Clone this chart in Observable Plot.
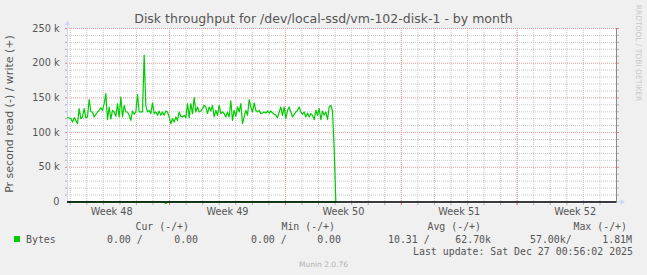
<!DOCTYPE html>
<html><head><meta charset="utf-8">
<script src="https://cdn.jsdelivr.net/npm/d3@7"></script>
<script src="https://cdn.jsdelivr.net/npm/@observablehq/plot@0.6"></script>
<style>
html,body{margin:0;padding:0;background:#f0f0f0;}
#wrap{position:relative;width:647px;height:275px;overflow:hidden;background:#f0f0f0;font-family:"DejaVu Sans",sans-serif;color:#555;}
#plot{position:absolute;left:0;top:0;}
#plot svg{display:block;overflow:visible;}
.abs{position:absolute;white-space:pre;line-height:12px;height:12px;}
#title{left:0;width:647px;top:12px;text-align:center;font-size:12.5px;color:#555;line-height:14px;height:14px;}
#ylabel{left:10px;top:114px;font-size:11px;color:#555;transform:translate(-50%,-50%) rotate(-90deg);line-height:12px;}
#rrd{left:638px;top:53px;font-size:7.5px;color:#c8c8c8;transform:translate(-50%,-50%) rotate(90deg);line-height:9px;height:9px;}
.mono{font-family:"DejaVu Sans Mono",monospace;font-size:9.9px;color:#555;}
#munin{left:0;width:647px;text-align:center;top:259px;font-size:7.5px;color:#b0b0b0;}
#swatch{position:absolute;left:14px;top:236px;width:6px;height:6px;background:#00CC00;}
</style>
</head><body>
<div id="wrap">
  <div id="plot"></div>
  <div id="title" class="abs">Disk throughput for /dev/local-ssd/vm-102-disk-1 - by month</div>
  <div id="ylabel" class="abs">Pr second read (-) / write (+)</div>
  <div id="rrd" class="abs">RRDTOOL / TOBI OETIKER</div>
  <div id="legend"></div>
  <div id="munin" class="abs">Munin 2.0.76</div>
</div>
<script>
// ---- data ----
const seriesStart = new Date(Date.UTC(2025, 10, 24, 20, 0));
const stepMinutes = 145;
const domainStart = new Date(Date.UTC(2025, 10, 24, 20, 0));
const domainEnd = new Date(Date.UTC(2025, 11, 28, 0, 0));

// write (+) bytes per second, in thousands
const writeK = [
121.5,121,120.1,115.2,121.5,117.6,112.8,134.5,120.1,122.5,
134.5,121.5,122.5,147.5,130,129.7,122.5,126.3,129.7,132.1,
135.5,132.1,141.7,156.1,118.6,136.9,119.6,132.1,129.7,123.4,
141.7,122.5,151.3,122.5,139.3,129.7,129.7,124.9,117.6,131.1,
126.3,129.7,155.2,129.7,130,129.7,211.5,139.3,130,132,
127.3,142.7,127.3,129.7,124.9,131.1,124.9,129.7,124.9,131.1,
129.7,122.5,112.8,120.1,115.2,122.5,117.6,129.7,123.4,122.5,
124.9,121.5,141.7,121.5,141.7,127.3,150.4,129.7,136.9,129.7,
131.1,134.5,139.3,136.9,127.3,136.9,131.1,139.3,122.5,132.1,
124.9,139.3,127.3,129.7,127.3,122.5,129.7,122.5,145.6,117.6,
132.1,123.4,136.9,129.7,141.7,112.8,122.5,132.1,124.9,147.5,
136.9,129.7,142.7,132.1,129.7,132.1,127.3,128.2,129.7,128.2,
131.1,128.2,131.1,128.2,126.3,124.9,121.5,129.7,136.9,124.9,
136.9,120.1,132.1,136.9,129.7,122.5,126.3,129.7,132.1,136.9,
129.7,126.3,129.7,122.5,128.2,122.5,127.3,124.9,118.6,132.1,
124.9,134.5,118.6,131.1,124.9,129.7,118.6,136.9,139.3,131.1,
76.7,0
];
// read (-) bytes per second, in thousands: zero except these samples
const readSpikes = [[59, 57]];

const weekLabels = ["Week 48","Week 49","Week 50","Week 51","Week 52"];
const weekStartDates = ["2025-11-24","2025-12-01","2025-12-08","2025-12-15","2025-12-22"];
const yTickValues = [0, 50, 100, 150, 200, 250];
const yTickLabels = ["0", "50 k", "100 k", "150 k", "200 k", "250 k"];

const legendHeaders = ["Cur (-/+)", "Min (-/+)", "Avg (-/+)", "Max (-/+)"];
const seriesName = "Bytes";
const readValues = ["0.00 /", "0.00 /", "10.31 /", "57.00k/"];
const writeValues = ["0.00", "0.00", "62.70k", "1.81M"];
const lastUpdate = "Last update: Sat Dec 27 00:56:02 2025";

// ---- build ----
const yMin = -2.2, yMax = 250;
const tAt = i => new Date(+seriesStart + i * stepMinutes * 60000);
const writeData = writeK.map((v, i) => ({t: tAt(i), v}));
const readMap = new Map(readSpikes);
const readData = writeK.map((_, i) => ({t: tAt(i), v: -(readMap.get(i) || 0)}));

const days = d3.utcDay.range(d3.utcDay.ceil(domainStart), domainEnd);
const weekBounds = weekStartDates.map(d => new Date(d + "T00:00:00Z")).filter(d => d > domainStart && d < domainEnd);
const weeks = weekLabels.map((label, i) => ({label, mid: new Date(+new Date(weekStartDates[i] + "T00:00:00Z") + 3.5 * 864e5)}));
const yMinor = d3.range(10, 250, 10).filter(v => v % 50 !== 0);
const yMajor = yTickValues.filter(v => v > 0);
const yTicks = yTickValues.map((v, i) => ({v, label: yTickLabels[i]}));

const axisColor = "#CFD6F8";
const minorGrid = "#c8c8c8";
const majorGrid = "#e49a9a";
const arrowEnd = new Date(+domainEnd + 8 * 3600e3);

const chart = Plot.plot({
  width: 647, height: 222,
  marginLeft: 67, marginRight: 31, marginTop: 28, marginBottom: 19,
  style: {background: "transparent", fontFamily: "DejaVu Sans", fontSize: "9.7px", color: "#555", overflow: "visible"},
  x: {type: "utc", domain: [domainStart, domainEnd], axis: null},
  y: {domain: [yMin, yMax], axis: null},
  marks: [
    Plot.frame({fill: "white", stroke: "none"}),
    Plot.ruleX(days, {stroke: minorGrid, strokeDasharray: "1,1"}),
    Plot.ruleY(yMinor, {stroke: minorGrid, strokeDasharray: "1,1"}),
    Plot.ruleX(weekBounds, {stroke: majorGrid, strokeDasharray: "1,1"}),
    Plot.ruleY(yMajor, {stroke: majorGrid, strokeDasharray: "1,1"}),
    // small tick marks
    Plot.axisY(yMinor, {anchor: "left", tickSize: 2, tickFormat: () => "", label: null, stroke: "#b0b0b0"}),
    Plot.axisY(yMajor, {anchor: "left", tickSize: 2, tickFormat: () => "", label: null, stroke: "#e08080"}),
    Plot.axisY(yMinor, {anchor: "right", tickSize: 2, tickFormat: () => "", label: null, stroke: "#b0b0b0"}),
    Plot.axisY(yMajor, {anchor: "right", tickSize: 2, tickFormat: () => "", label: null, stroke: "#e08080"}),
    Plot.axisX(days, {anchor: "bottom", tickSize: 2, tickFormat: () => "", label: null, stroke: "#b0b0b0"}),
    Plot.axisX(weekBounds, {anchor: "bottom", tickSize: 2, tickFormat: () => "", label: null, stroke: "#e08080"}),
    // axes lines + arrows
    Plot.ruleX([domainStart], {y1: yMin, y2: yMax + 6, stroke: axisColor}),
    Plot.ruleY([0], {x1: domainStart, x2: arrowEnd, stroke: axisColor}),
    Plot.dot([{x: domainStart, y: yMax}], {x: "x", y: "y", dy: -5, symbol: "triangle2", r: 2.6, fill: axisColor, stroke: "none"}),
    Plot.dot([{x: arrowEnd, y: 0}], {x: "x", y: "y", symbol: "triangle2", r: 2.6, rotate: 90, fill: axisColor, stroke: "none"}),
    Plot.ruleX([domainEnd], {stroke: "#8a8a8a"}),
    // data
    Plot.line(readData, {x: "t", y: d => Math.max(d.v, yMin), stroke: "#00CC00", strokeWidth: 1.2}),
    Plot.line(writeData, {x: "t", y: "v", stroke: "#00CC00", strokeWidth: 1.2}),
    Plot.ruleY([0], {x1: domainStart, x2: domainEnd, stroke: "#000", strokeWidth: 1.4}),
    // labels
    Plot.text(yTicks, {y: "v", text: "label", frameAnchor: "left", dx: -8, textAnchor: "end", fill: "#555", fontSize: 9.7}),
    Plot.text(weeks, {x: "mid", text: "label", frameAnchor: "bottom", dy: 11, fill: "#555", fontSize: 9.7})
  ]
});
document.getElementById("plot").appendChild(chart);

// legend
const legend = document.getElementById("legend");
function addText(txt, opts) {
  const el = document.createElement("div");
  el.className = "abs mono";
  el.textContent = txt;
  Object.assign(el.style, opts);
  legend.appendChild(el);
}
const headerRight = [189, 335, 481, 627];
const readLeft = [107, 251, 388, 530];
const writeRight = [198, 341, 491, 632];
legendHeaders.forEach((h, i) => addText(h, {right: (647 - headerRight[i]) + "px", top: "221px"}));
const sw = document.createElement("div"); sw.id = "swatch"; legend.appendChild(sw);
addText(seriesName, {left: "26px", top: "234px"});
readValues.forEach((r, i) => addText(r, {left: readLeft[i] + "px", top: "234px"}));
writeValues.forEach((w, i) => addText(w, {right: (647 - writeRight[i]) + "px", top: "234px"}));
addText(lastUpdate, {right: (647 - 633) + "px", top: "246px"});
</script>
</body></html>
